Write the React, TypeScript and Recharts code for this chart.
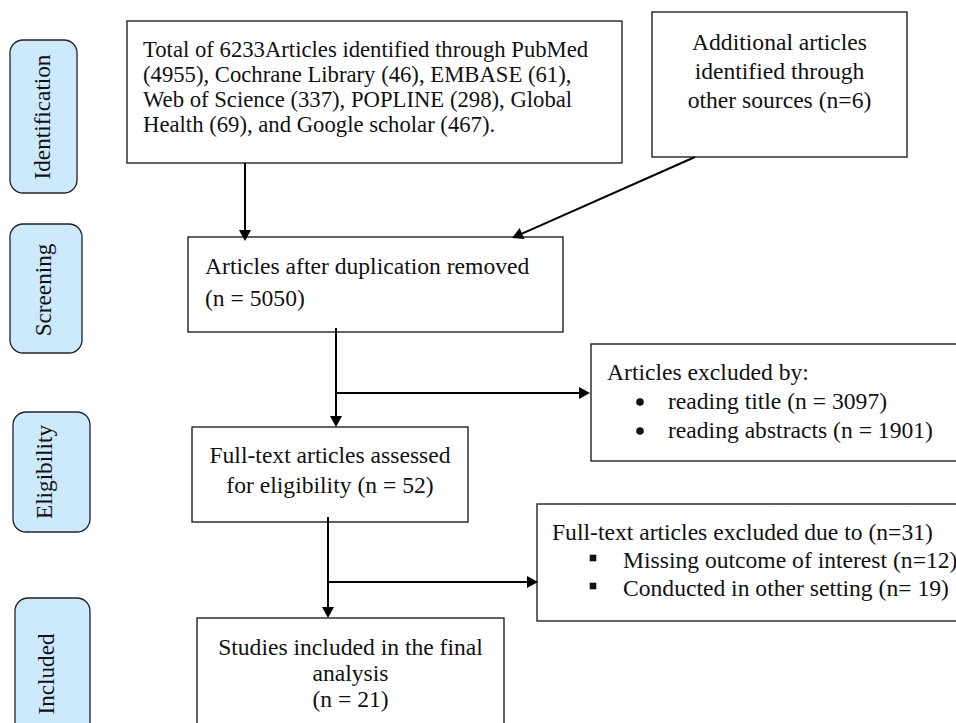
import { ComposedChart, XAxis, YAxis, ReferenceArea, ReferenceLine } from 'recharts';

const W = 956;
const H = 723;
const FONT = '"Liberation Serif", "Times New Roman", Times, serif';

// phase labels down the left side
const stages = ['Identification', 'Screening', 'Eligibility', 'Included'];

// box contents
const identifiedText = [
  'Total of 6233Articles identified through PubMed',
  '(4955), Cochrane Library (46), EMBASE (61),',
  'Web of Science (337), POPLINE (298), Global',
  'Health (69), and Google scholar (467).',
];
const otherSourcesText = ['Additional articles', 'identified through', 'other sources (n=6)'];
const dedupText = ['Articles after duplication removed', '(n = 5050)'];
const screenedOutTitle = ['Articles excluded by:'];
const screenedOutItems = ['reading title (n = 3097)', 'reading abstracts (n = 1901)'];
const assessedText = ['Full-text articles assessed', 'for eligibility (n = 52)'];
const fullTextOutTitle = ['Full-text articles excluded due to (n=31)'];
const fullTextOutItems = ['Missing outcome of interest (n=12)', 'Conducted in other setting (n= 19)'];
const includedText = ['Studies included in the final', 'analysis', '(n = 21)'];

// diagram layout (diagram units == page pixels via the axis domains)
const stageLayout = [
  { x1: 10, x2: 77, y1: 40, y2: 193, cx: 42, cy: 117 },
  { x1: 10, x2: 82, y1: 224, y2: 353, cx: 43, cy: 290 },
  { x1: 13, x2: 90, y1: 412, y2: 532, cx: 44, cy: 472 },
  { x1: 15, x2: 90, y1: 598, y2: 760, cx: 46, cy: 674 },
];

type Box = {
  x1: number; x2: number; y1: number; y2: number;
  lines: string[];
  items?: string[];
  bullet?: 'dot' | 'square';
  align: 'start' | 'middle';
  fs: number;
  pad?: number; top: number; lh: number;
  bulletAt?: number; itemAt?: number;
};

const boxes: Box[] = [
  { x1: 127, x2: 622, y1: 21, y2: 163, lines: identifiedText, align: 'start', fs: 22.7, pad: 16, top: 36, lh: 25 },
  { x1: 652, x2: 907, y1: 12, y2: 157, lines: otherSourcesText, align: 'middle', fs: 23.6, top: 38, lh: 29 },
  { x1: 188, x2: 563, y1: 237, y2: 332, lines: dedupText, align: 'start', fs: 23.6, pad: 17, top: 37, lh: 32 },
  {
    x1: 591, x2: 975, y1: 344, y2: 461, lines: screenedOutTitle, items: screenedOutItems, bullet: 'dot',
    align: 'start', fs: 23.6, pad: 16, top: 36, lh: 29, bulletAt: 49, itemAt: 77,
  },
  { x1: 192, x2: 468, y1: 427, y2: 522, lines: assessedText, align: 'middle', fs: 23.6, top: 36, lh: 30 },
  {
    x1: 537, x2: 975, y1: 504, y2: 621, lines: fullTextOutTitle, items: fullTextOutItems, bullet: 'square',
    align: 'start', fs: 23.6, pad: 15, top: 36, lh: 28, bulletAt: 56, itemAt: 86,
  },
  { x1: 197, x2: 504, y1: 618, y2: 760, lines: includedText, align: 'middle', fs: 23.6, top: 37, lh: 26 },
];

const links = [
  { x1: 245, y1: 163, x2: 245, y2: 241 },
  { x1: 695, y1: 157, x2: 512, y2: 238 },
  { x1: 336, y1: 328, x2: 336, y2: 427 },
  { x1: 336, y1: 393, x2: 590, y2: 393 },
  { x1: 328, y1: 517, x2: 328, y2: 618 },
  { x1: 328, y1: 582, x2: 538, y2: 582 },
];

function Arrow(p: any) {
  const { x1, y1, x2, y2 } = p;
  const a = Math.atan2(y2 - y1, x2 - x1);
  const len = 11;
  const hw = 6;
  const bx = x2 - len * Math.cos(a);
  const by = y2 - len * Math.sin(a);
  const nx = -Math.sin(a) * hw;
  const ny = Math.cos(a) * hw;
  return (
    <g>
      <line x1={x1} y1={y1} x2={bx} y2={by} stroke="#000" strokeWidth={2} />
      <polygon points={`${x2},${y2} ${bx + nx},${by + ny} ${bx - nx},${by - ny}`} fill="#000" />
    </g>
  );
}

function stageShape(i: number) {
  const l = stageLayout[i];
  return (p: any) => {
    const { x, y, width, height } = p;
    const tx = x + (l.cx - l.x1);
    const ty = y + (l.cy - l.y1);
    return (
      <g>
        <rect x={x} y={y} width={width} height={height} rx={13} ry={13} fill="#cdeafc" stroke="#222" strokeWidth={1.3} />
        <text
          x={tx} y={ty} transform={`rotate(-90 ${tx} ${ty})`} textAnchor="middle" dominantBaseline="central"
          fontFamily={FONT} fontSize={23.2} fill="#111"
        >
          {stages[i]}
        </text>
      </g>
    );
  };
}

function boxShape(b: Box) {
  return (p: any) => {
    const { x, y, width, height } = p;
    const tx = b.align === 'middle' ? x + width / 2 : x + (b.pad || 0);
    const base = y + b.top;
    return (
      <g>
        <rect x={x} y={y} width={width} height={height} fill="#fff" stroke="#222" strokeWidth={1.4} />
        {b.lines.map((t, i) => (
          <text key={i} x={tx} y={base + i * b.lh} textAnchor={b.align} fontFamily={FONT} fontSize={b.fs} fill="#111">
            {t}
          </text>
        ))}
        {(b.items || []).map((t, i) => {
          const by = base + (b.lines.length + i) * b.lh;
          const bx = x + (b.bulletAt || 0);
          return (
            <g key={'it' + i}>
              {b.bullet === 'dot' ? (
                <circle cx={bx} cy={by - 7} r={3.8} fill="#111" />
              ) : (
                <rect x={bx - 3.3} y={by - 13.3} width={6.6} height={6.6} fill="#111" />
              )}
              <text x={x + (b.itemAt || 0)} y={by} fontFamily={FONT} fontSize={b.fs} fill="#111">
                {t}
              </text>
            </g>
          );
        })}
      </g>
    );
  };
}

export default function App() {
  return (
    <div style={{ position: 'absolute', left: 0, top: 0, width: W, height: H, background: '#fff' }}>
      <ComposedChart width={W} height={H} data={[]} margin={{ top: 0, right: 0, bottom: 0, left: 0 }}>
        <XAxis type="number" dataKey="x" domain={[0, W]} allowDataOverflow hide />
        <YAxis type="number" dataKey="y" domain={[0, H]} reversed allowDataOverflow hide />
        {stages.map((s, i) => {
          const l = stageLayout[i];
          return (
            <ReferenceArea
              key={s} x1={l.x1} x2={l.x2} y1={l.y1} y2={l.y2} ifOverflow="visible"
              shape={stageShape(i)}
            />
          );
        })}
        {boxes.map((b, i) => (
          <ReferenceArea key={'b' + i} x1={b.x1} x2={b.x2} y1={b.y1} y2={b.y2} ifOverflow="visible" shape={boxShape(b)} />
        ))}
        {links.map((l, i) => (
          <ReferenceLine
            key={'l' + i}
            segment={[{ x: l.x1, y: l.y1 }, { x: l.x2, y: l.y2 }]}
            ifOverflow="visible"
            shape={Arrow}
          />
        ))}
      </ComposedChart>
    </div>
  );
}
